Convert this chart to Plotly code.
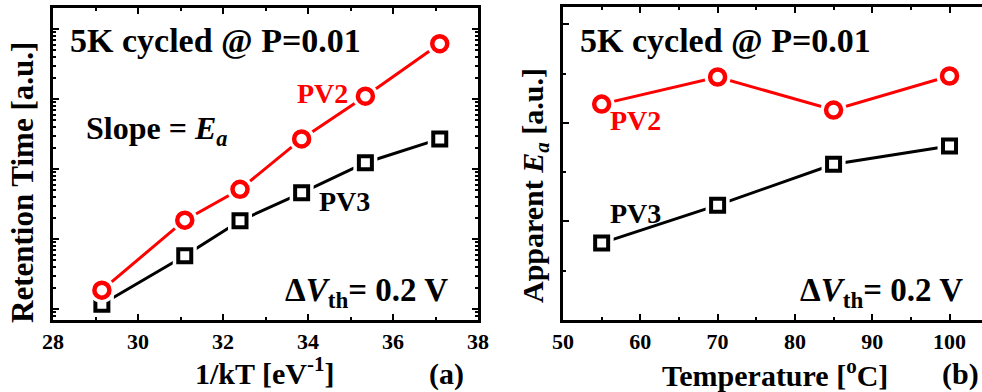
import plotly.graph_objects as go

# ---- data ----
inv_kT = [29.15, 31.1, 32.4, 33.85, 35.35, 37.1]
ret_pv2 = [1.86, 18.6, 51.3, 269, 1096, 6166]
ret_pv3 = [1.17, 5.75, 18.2, 45.7, 123, 269]

temp_c = [55, 70, 85, 100]
ea_pv2 = [4.38, 4.93, 4.26, 4.95]
ea_pv3 = [1.56, 2.33, 3.16, 3.53]

x_ticks_a = [28, 30, 32, 34, 36, 38]
x_ticks_b = [50, 60, 70, 80, 90, 100]

W, H = 982, 392
FONT = "Liberation Serif"
RED = "#ff0000"
BLACK = "#000000"


def px(x):
    return x / W


def py(y):
    return 1 - y / H


fig = go.Figure()


def add_series(xs, ys, color, symbol, size, lw, xa, ya):
    fig.add_trace(go.Scatter(x=xs, y=ys, mode="lines", line=dict(color=color, width=3),
                             xaxis=xa, yaxis=ya, showlegend=False, hoverinfo="skip"))
    fig.add_trace(go.Scatter(x=xs, y=ys, mode="markers",
                             marker=dict(symbol=symbol, size=size + 11, color="white",
                                         line=dict(width=0)),
                             xaxis=xa, yaxis=ya, showlegend=False, hoverinfo="skip"))
    fig.add_trace(go.Scatter(x=xs, y=ys, mode="markers",
                             marker=dict(symbol=symbol, size=size, color="white",
                                         line=dict(color=color, width=lw)),
                             xaxis=xa, yaxis=ya, showlegend=False))


add_series(inv_kT, ret_pv3, BLACK, "square", 13, 4, "x", "y")
add_series(inv_kT, ret_pv2, RED, "circle", 15, 4.5, "x", "y")
add_series(temp_c, ea_pv3, BLACK, "square", 13, 4, "x2", "y2")
add_series(temp_c, ea_pv2, RED, "circle", 15, 4.5, "x2", "y2")

tickfont = dict(family=FONT, size=22, color=BLACK, weight="bold")
axcommon = dict(showline=True, linecolor=BLACK, linewidth=3, ticks="inside",
                ticklen=6, tickwidth=2, tickcolor=BLACK, showgrid=False, zeroline=False,
                automargin=False)

y_bot, y_top = 320, 8
fig.update_layout(
    width=W, height=H,
    margin=dict(l=0, r=0, t=0, b=0),
    paper_bgcolor="white", plot_bgcolor="white",
    xaxis=dict(domain=[px(53), px(478)], range=[28, 38], tickvals=x_ticks_a,
               anchor="y", mirror="ticks", tickfont=tickfont,
               minor=dict(ticks="inside", ticklen=3, tickwidth=2, dtick=1, tick0=28,
                          tickcolor=BLACK),
               **axcommon),
    yaxis=dict(domain=[py(y_bot), py(y_top)], type="log", range=[-0.157, 4.3],
               dtick=1, tick0=0, anchor="x", mirror="ticks", showticklabels=False,
               minor=dict(ticks="inside", ticklen=3, tickwidth=1.5, tickcolor=BLACK),
               **axcommon),
    xaxis2=dict(domain=[px(563), 1.0], range=[50, 104.2], tickvals=x_ticks_b,
                anchor="y2", mirror="ticks", tickfont=tickfont,
                minor=dict(ticks="inside", ticklen=3, tickwidth=2, dtick=5, tick0=50,
                           tickcolor=BLACK),
                **axcommon),
    yaxis2=dict(domain=[py(y_bot), py(7)], range=[0, 6.35], dtick=2, tick0=0,
                anchor="x2", mirror=False, showticklabels=False,
                minor=dict(ticks="inside", ticklen=3, tickwidth=2, dtick=1, tick0=0,
                           tickcolor=BLACK),
                **axcommon),
)


def ann(text, x, y, size, color=BLACK, angle=0, xanchor="center"):
    fig.add_annotation(text=text, x=px(x), y=py(y), xref="paper", yref="paper",
                       showarrow=False, xanchor=xanchor, yanchor="middle",
                       textangle=angle,
                       font=dict(family=FONT, size=size, color=color))


# panel (a)
ann("<b>5K cycled @ P=0.01</b>", 215, 40, 34)
ann("<b>PV2</b>", 322, 93, 28, RED)
ann("<b>Slope = <i>E</i><sub><i>a</i></sub></b>", 156, 131, 32)
ann("<b>PV3</b>", 344, 202, 28)
ann("<b>Δ<i>V</i><sub>th</sub>= 0.2 V</b>", 366, 292, 33)
ann("<b>1/kT [eV<sup>-1</sup>]</b>", 264, 371, 30)
ann("<b>(a)</b>", 446, 374, 30)
ann("<b>Retention Time [a.u.]</b>", 22, 183, 31, angle=-90)

# panel (b)
ann("<b>5K cycled @ P=0.01</b>", 725, 40, 34)
ann("<b>PV2</b>", 635, 120, 28, RED)
ann("<b>PV3</b>", 635, 213, 28)
ann("<b>Δ<i>V</i><sub>th</sub>= 0.2 V</b>", 881, 292, 33)
ann("<b>Temperature [<sup>o</sup>C]</b>", 775, 373, 30)
ann("<b>(b)</b>", 960, 374, 30)
ann("<b>Apparent <i>E</i><sub><i>a</i></sub> [a.u.]</b>", 535, 186, 30, angle=-90)

fig.write_html("out.html", config={"displayModeBar": False},
               post_script="document.body.style.margin='0';document.body.style.overflow='hidden';")
